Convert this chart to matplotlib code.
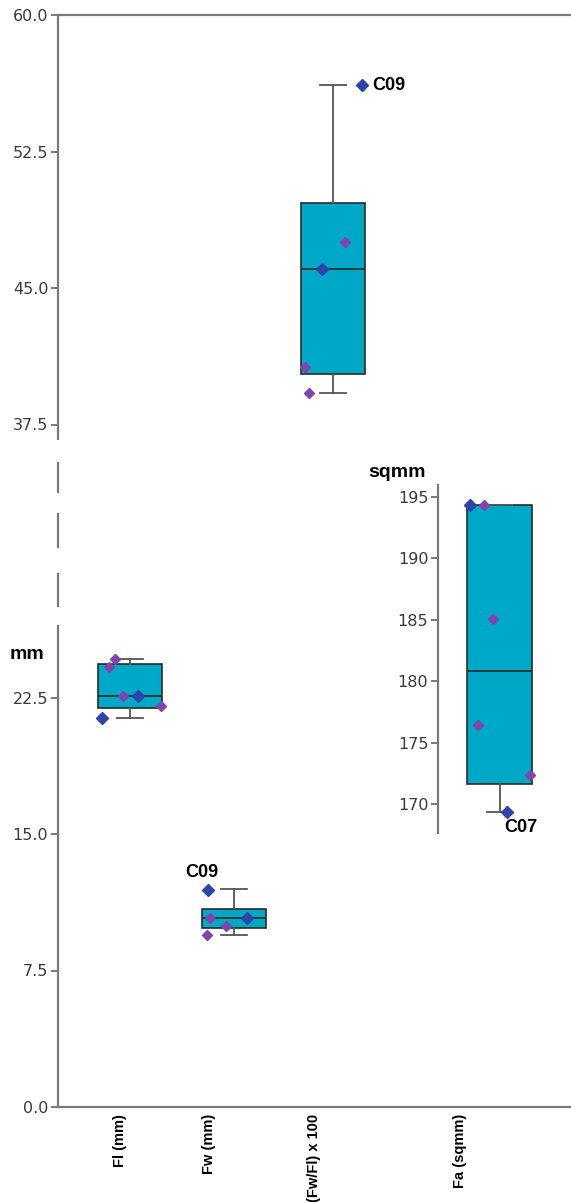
import matplotlib.pyplot as plt
import numpy as np

# categories and box statistics
labels = ["Fl (mm)", "Fw (mm)", "(Fw/Fl) x 100", "Fa (sqmm)"]
q1 = [21.92, 9.84, 40.27, 171.63]
med = [22.58, 10.38, 46.04, 180.83]
q3 = [24.34, 10.88, 49.67, 194.35]
whislo = [21.37, 9.45, 39.23, 169.35]
whishi = [24.62, 11.98, 56.15, 194.35]

# individual cases (value, colour group 0=blue 1=purple)
fl_vals = [21.37, 24.18, 24.62, 22.58, 22.58, 22.03]
fl_grp = [0, 1, 1, 1, 0, 1]
fw_vals = [11.92, 10.38, 9.95, 10.38, 9.45]
fw_grp = [0, 1, 1, 0, 1]
ratio_vals = [56.15, 47.53, 46.04, 40.66, 39.23]
ratio_grp = [0, 1, 0, 1, 1]
fa_vals = [194.35, 194.35, 185.1, 176.4, 172.4, 169.35]
fa_grp = [0, 1, 1, 1, 1, 0]

# horizontal scatter of the cases
fl_jit = [0.72, 0.79, 0.85, 0.93, 1.08, 1.31]
fw_jit = [1.77, 1.79, 1.95, 2.16, 1.76]
ratio_jit = [3.30, 3.13, 2.90, 2.73, 2.77]
fa_jit = [4.37, 4.50, 4.59, 4.45, 4.96, 4.73]

main_ticks = [0, 7.5, 15, 22.5, 37.5, 45, 52.5, 60]
fa_ticks = [170, 175, 180, 185, 190, 195]

positions = [1, 2.03, 3.01, 4.66]
label_pos = [0.90, 1.78, 2.82, 4.27]

box_col = "#00a8c8"
blue = "#2e44a8"
purple = "#7e45ac"
spine_col = "#7a7a7a"

W, H = 571, 1202
fig = plt.figure(figsize=(W / 100, H / 100), dpi=100)

def frac(px_l, px_t, px_r, px_b):
    return [px_l / W, 1 - px_b / H, (px_r - px_l) / W, (px_b - px_t) / H]

ax = fig.add_axes(frac(58, 15, 571, 1107))
ax2 = fig.add_axes(frac(58, 485, 571, 833), sharex=ax)
ax2.patch.set_alpha(0)

ax.set_xlim(0.287, 5.366)
ax.set_ylim(0, 60)
ax2.set_ylim(167.64, 195.98)

def stats(i):
    return dict(med=med[i], q1=q1[i], q3=q3[i], whislo=whislo[i],
                whishi=whishi[i], fliers=[])

bprops = dict(patch_artist=True, widths=0.64, capwidths=0.25,
              boxprops=dict(facecolor=box_col, edgecolor="#2a2a2a", linewidth=1.2),
              medianprops=dict(color="#1c3a3a", linewidth=1.4),
              whiskerprops=dict(color="#555555", linewidth=1.3),
              capprops=dict(color="#555555", linewidth=1.3),
              showfliers=False, manage_ticks=False)
ax.bxp([stats(i) for i in range(3)], positions=positions[:3], **bprops)
ax2.bxp([stats(3)], positions=positions[3:], **bprops)

def cases(a, xs, vals, grp):
    for x, v, g in zip(xs, vals, grp):
        if g == 0:
            a.plot(x, v, "D", color=blue, ms=5.8, mec=blue, zorder=5)
        else:
            a.plot(x, v, "D", color=purple, ms=4.8, mec=purple, zorder=5)

cases(ax, fl_jit, fl_vals, fl_grp)
cases(ax, fw_jit, fw_vals, fw_grp)
cases(ax, ratio_jit, ratio_vals, ratio_grp)
cases(ax2, fa_jit, fa_vals, fa_grp)

lab = dict(fontfamily="Liberation Sans", fontweight="bold", fontsize=13)
ax.text(1.545, 12.91, "C09", ha="left", va="center", **lab)
ax.text(3.40, ratio_vals[0], "C09", ha="left", va="center", **lab)
ax2.text(4.71, 168.05, "C07", ha="left", va="center", **lab)

# main axis: spines and ticks
for s in ["right", "left"]:
    ax.spines[s].set_visible(False)
for s in ["top", "bottom"]:
    ax.spines[s].set_color(spine_col)
    ax.spines[s].set_linewidth(1.6)

# broken left spine
ytr = ax.get_yaxis_transform()
segs = [(36.65, 60), (33.74, 35.44), (30.71, 32.64), (27.47, 29.34), (0, 26.48)]
for lo, hi in segs:
    ax.plot([0, 0], [lo, hi], color=spine_col, lw=1.6, transform=ytr,
            clip_on=False, solid_capstyle="butt", zorder=6)

ax.set_yticks(main_ticks)
ax.set_yticklabels(["%.1f" % t for t in main_ticks])
ax.tick_params(axis="y", length=5, width=1.4, color=spine_col,
               labelsize=11.5, labelcolor="#3a3a3a", pad=2)
ax.set_xticks(label_pos)
ax.set_xticklabels(labels, rotation=90, fontfamily="Liberation Sans",
                   fontweight="bold", fontsize=10.5, va="top")
ax.tick_params(axis="x", length=0, pad=5)

ax.text(-0.094, 24.84, "mm", transform=ytr, ha="left", va="center",
        fontfamily="Liberation Sans", fontweight="bold", fontsize=14)

# inset axis for Fa
for s in ["right", "top", "bottom"]:
    ax2.spines[s].set_visible(False)
ax2.spines["left"].set_position(("data", 4.05))
ax2.spines["left"].set_color(spine_col)
ax2.spines["left"].set_linewidth(1.6)
ax2.set_yticks(fa_ticks)
ax2.set_yticklabels([str(t) for t in fa_ticks])
ax2.tick_params(axis="y", length=5, width=1.4, color=spine_col,
                labelsize=11.5, labelcolor="#3a3a3a", pad=2)
ax2.tick_params(axis="x", bottom=False, labelbottom=False)
ax2.text(3.36, 197.0, "sqmm", ha="left", va="center", clip_on=False,
         fontfamily="Liberation Sans", fontweight="bold", fontsize=14)

fig.savefig("out.png", dpi=100)
